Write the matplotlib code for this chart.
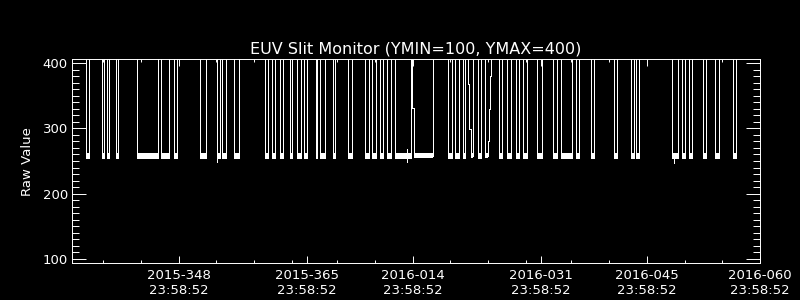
import matplotlib.pyplot as plt
from matplotlib.ticker import MultipleLocator, FixedLocator

# x is in days; 348.0 is 2015-348 23:58:52, 2016 days are 365 + day of year
x_min = 333.87
x_max = 425.0
y_min = 93.4
y_max = 406.1

major_days = [348, 365, 379, 396, 410, 425]
major_labels = ["2015-348\n23:58:52", "2015-365\n23:58:52", "2016-014\n23:58:52",
                "2016-031\n23:58:52", "2016-045\n23:58:52", "2016-060\n23:58:52"]
minor_days = [338, 343, 353, 358, 363, 369, 374, 384, 389, 394, 400, 405, 415, 420]

high_level = 410.0   # normal reading, off the top of the plot
low_level = 254.0    # bottom of the slit dips
low_noise_top = 263.0

# plain dips: signal drops to the low level and comes straight back
dip_start = [335.72, 337.80, 338.50, 339.69, 342.52, 345.62, 347.42, 350.82,
             353.11, 353.74, 355.37, 359.47, 360.36, 361.46, 362.70, 363.71,
             364.64, 366.23, 366.76, 368.44, 370.43, 372.72, 373.61, 374.67,
             375.59, 376.69, 383.67, 384.60, 385.66, 387.69, 390.43, 391.45,
             392.68, 393.65, 395.50, 397.62, 398.64, 400.63, 402.62, 405.66,
             407.91, 408.58, 413.35, 414.67, 415.64, 417.41, 419.08, 421.47]
dip_end = [336.18, 338.14, 338.73, 339.92, 345.30, 346.75, 347.84, 351.62,
           353.43, 354.27, 356.03, 359.79, 360.80, 361.82, 363.05, 364.16,
           365.00, 366.36, 367.42, 368.70, 370.92, 373.21, 374.10, 375.10,
           376.08, 378.77, 384.20, 385.09, 385.97, 388.04, 390.79, 392.02,
           393.04, 394.10, 396.09, 398.07, 400.06, 401.07, 403.05, 406.10,
           408.35, 409.01, 414.10, 415.03, 416.04, 417.85, 419.53, 421.78]

# dips with a slow, stepped edge
slow1_x = [378.90, 378.90, 379.17, 379.17, 381.73, 381.73]
slow1_y = [high_level, 332, 332, 258, 258, high_level]
slow2_x = [386.36, 386.36, 386.49, 386.49, 386.68, 386.68, 387.05, 387.05]
slow2_y = [high_level, 368, 368, 299, 299, 258, 258, high_level]
slow3_x = [388.57, 388.57, 389.01, 389.01, 389.10, 389.10, 389.24, 389.24, 389.37, 389.37]
slow3_y = [high_level, 258, 258, 281, 281, 330, 330, 380, 380, high_level]
slow_band_start = [379.17, 386.68, 388.57]
slow_band_end = [381.73, 387.05, 389.01]

# single noisy readings below the band
spike_x = [353.11, 378.24, 413.65]
spike_lo = [248.0, 249.0, 246.5]
spike_hi = [263.0, 268.0, 263.0]

plt.rcParams["font.family"] = ["DejaVu Sans"]

fig = plt.figure(figsize=(8, 3), dpi=100, facecolor="black")
ax = fig.add_axes([0.09, 0.1233, 0.86, 0.679])
ax.set_facecolor("black")

line_kw = dict(color="white", lw=0.6, antialiased=False)

xs, ys = [x_min], [high_level]
for s, e in zip(dip_start, dip_end):
    xs += [s, s, e, e]
    ys += [high_level, low_level, low_level, high_level]
xs.append(x_max)
ys.append(high_level)
ax.plot(xs, ys, **line_kw)

for sx, sy in [(slow1_x, slow1_y), (slow2_x, slow2_y), (slow3_x, slow3_y)]:
    ax.plot(sx, sy, **line_kw)

band_start = dip_start + slow_band_start
band_end = dip_end + slow_band_end
ax.bar(band_start, low_noise_top - low_level,
       width=[e - s for s, e in zip(band_start, band_end)],
       bottom=low_level, align="edge", color="white", lw=0, antialiased=False)
ax.vlines(spike_x, spike_lo, spike_hi, colors="white", lw=0.6, antialiased=False)

ax.set_xlim(x_min, x_max)
ax.set_ylim(y_min, y_max)

ax.xaxis.set_major_locator(FixedLocator(major_days))
ax.xaxis.set_minor_locator(FixedLocator(minor_days))
ax.set_xticklabels(major_labels)
ax.yaxis.set_major_locator(MultipleLocator(100))
ax.yaxis.set_minor_locator(MultipleLocator(10))

for sp in ax.spines.values():
    sp.set_color("white")
    sp.set_linewidth(0.7)

ax.tick_params(axis="both", which="both", direction="in", colors="white",
               width=0.7, labelsize=9.5)
ax.tick_params(axis="x", which="major", length=4.8, top=True, pad=4)
ax.tick_params(axis="x", which="minor", length=2.4, top=True)
ax.tick_params(axis="y", which="major", length=10, right=True, pad=3)
ax.tick_params(axis="y", which="minor", length=5, right=True)

fig.text(416 / 800, 1 - 53.3 / 300, "EUV Slit Monitor (YMIN=100, YMAX=400)",
         color="white", fontsize=11.5, ha="center", va="baseline")
fig.text(27.7 / 800, 1 - 161.7 / 300, "Raw Value", color="white",
         fontsize=9.5, rotation=90, ha="center", va="center")

fig.savefig("out.png", dpi=100, facecolor="black")
